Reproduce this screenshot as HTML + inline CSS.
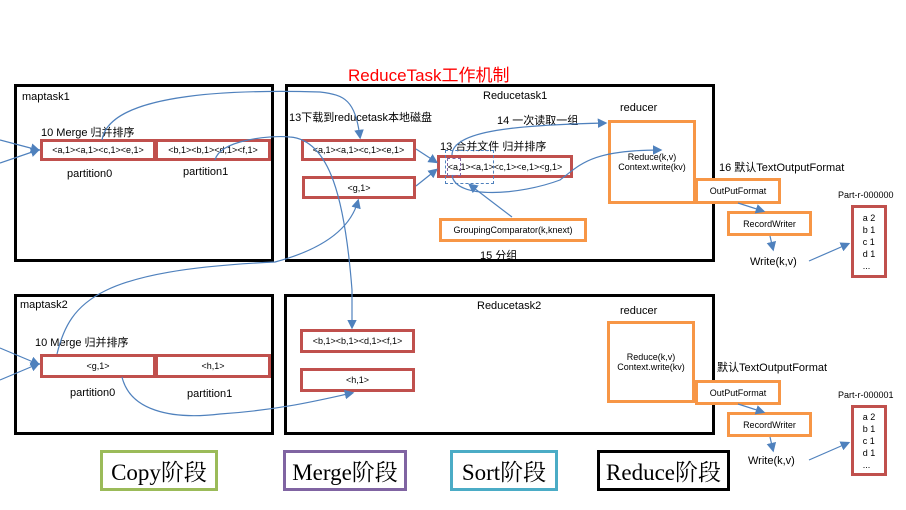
<!DOCTYPE html>
<html><head><meta charset="utf-8"><style>
body{margin:0;width:906px;height:510px;background:#fff;position:relative;overflow:hidden;font-family:"Liberation Sans","Noto Sans CJK SC",sans-serif;}
.a{position:absolute;box-sizing:border-box;}
.blk{border:3px solid #000;}
.red{border:3px solid #c0504d;display:flex;align-items:center;justify-content:center;font-size:9px;background:#fff;}
.or{border:3px solid #f79646;display:flex;align-items:center;justify-content:center;font-size:9px;background:#fff;text-align:center;}
.t{position:absolute;font-size:11px;white-space:nowrap;}
.lg{position:absolute;box-sizing:border-box;border:3px solid;display:flex;align-items:center;justify-content:center;font-family:"Liberation Serif","Noto Serif CJK SC",serif;font-size:23px;}
svg{position:absolute;left:0;top:0;}
</style></head><body>
<div class="t" style="left:348px;top:61px;font-size:17px;color:#f00">ReduceTask工作机制</div>
<div class="a blk" style="left:14px;top:84px;width:260px;height:178px"></div>
<div class="a blk" style="left:285px;top:84px;width:430px;height:178px"></div>
<div class="a blk" style="left:14px;top:294px;width:260px;height:141px"></div>
<div class="a blk" style="left:284px;top:294px;width:431px;height:141px"></div>

<div class="t" style="left:22px;top:91px">maptask1</div>
<div class="t" style="left:41px;top:124px">10 Merge 归并排序</div>
<div class="a red" style="left:40px;top:139px;width:116px;height:22px">&lt;a,1&gt;&lt;a,1&gt;&lt;c,1&gt;&lt;e,1&gt;</div>
<div class="a red" style="left:155px;top:139px;width:116px;height:22px">&lt;b,1&gt;&lt;b,1&gt;&lt;d,1&gt;&lt;f,1&gt;</div>
<div class="t" style="left:67px;top:168px">partition0</div>
<div class="t" style="left:183px;top:166px">partition1</div>

<div class="t" style="left:289px;top:109px">13下载到reducetask本地磁盘</div>
<div class="t" style="left:483px;top:90px">Reducetask1</div>
<div class="t" style="left:620px;top:102px">reducer</div>
<div class="t" style="left:497px;top:112px">14 一次读取一组</div>
<div class="t" style="left:440px;top:138px">13 合并文件 归并排序</div>
<div class="a red" style="left:301px;top:139px;width:115px;height:22px">&lt;a,1&gt;&lt;a,1&gt;&lt;c,1&gt;&lt;e,1&gt;</div>
<div class="a red" style="left:302px;top:176px;width:114px;height:23px">&lt;g,1&gt;</div>
<div class="a red" style="left:437px;top:155px;width:136px;height:23px">&lt;a,1&gt;&lt;a,1&gt;&lt;c,1&gt;&lt;e,1&gt;&lt;g,1&gt;</div>
<div class="a" style="left:445px;top:150px;width:49px;height:34px;border:1px dashed #4f81bd"></div>
<div class="a" style="left:447px;top:158px;width:14px;height:18px;border:1px dashed #8064a2"></div>
<div class="a or" style="left:439px;top:218px;width:148px;height:24px">GroupingComparator(k,knext)</div>
<div class="t" style="left:480px;top:247px">15 分组</div>
<div class="a or" style="left:608px;top:120px;width:88px;height:84px">Reduce(k,v)<br>Context.write(kv)</div>
<div class="t" style="left:719px;top:159px">16 默认TextOutputFormat</div>
<div class="a or" style="left:695px;top:178px;width:86px;height:26px">OutPutFormat</div>
<div class="a or" style="left:727px;top:211px;width:85px;height:25px">RecordWriter</div>
<div class="t" style="left:750px;top:256px">Write(k,v)</div>
<div class="t" style="left:838px;top:190px;font-size:9px">Part-r-000000</div>
<div class="a red" style="left:851px;top:205px;width:36px;height:73px;flex-direction:column;line-height:12px">a 2<br>b 1<br>c 1<br>d 1<br>...</div>

<div class="t" style="left:20px;top:299px">maptask2</div>
<div class="t" style="left:35px;top:334px">10 Merge 归并排序</div>
<div class="a red" style="left:40px;top:354px;width:116px;height:24px">&lt;g,1&gt;</div>
<div class="a red" style="left:155px;top:354px;width:116px;height:24px">&lt;h,1&gt;</div>
<div class="t" style="left:70px;top:387px">partition0</div>
<div class="t" style="left:187px;top:388px">partition1</div>
<div class="t" style="left:477px;top:300px">Reducetask2</div>
<div class="t" style="left:620px;top:305px">reducer</div>
<div class="a red" style="left:300px;top:329px;width:115px;height:24px">&lt;b,1&gt;&lt;b,1&gt;&lt;d,1&gt;&lt;f,1&gt;</div>
<div class="a red" style="left:300px;top:368px;width:115px;height:24px">&lt;h,1&gt;</div>
<div class="a or" style="left:607px;top:321px;width:88px;height:82px">Reduce(k,v)<br>Context.write(kv)</div>
<div class="t" style="left:717px;top:359px">默认TextOutputFormat</div>
<div class="a or" style="left:695px;top:380px;width:86px;height:25px">OutPutFormat</div>
<div class="a or" style="left:727px;top:412px;width:85px;height:25px">RecordWriter</div>
<div class="t" style="left:748px;top:455px">Write(k,v)</div>
<div class="t" style="left:838px;top:390px;font-size:9px">Part-r-000001</div>
<div class="a red" style="left:851px;top:405px;width:36px;height:71px;flex-direction:column;line-height:12px">a 2<br>b 1<br>c 1<br>d 1<br>...</div>

<div class="lg" style="left:100px;top:450px;width:118px;height:41px;border-color:#9bbb59">Copy阶段</div>
<div class="lg" style="left:283px;top:450px;width:124px;height:41px;border-color:#8064a2">Merge阶段</div>
<div class="lg" style="left:450px;top:450px;width:108px;height:41px;border-color:#4bacc6">Sort阶段</div>
<div class="lg" style="left:597px;top:450px;width:133px;height:41px;border-color:#000">Reduce阶段</div>

<svg width="906" height="510"><defs><marker id="m" markerWidth="8" markerHeight="8" refX="6" refY="4" orient="auto"><path d="M0,0 L8,4 L0,8 z" fill="#4f81bd"/></marker></defs>
<g fill="none" stroke="#4f81bd" stroke-width="1.2" marker-end="url(#m)">
<path d="M0,140 L38,150"/><path d="M0,163 L38,150"/>
<path d="M0,348 L38,364"/><path d="M0,380 L38,364"/>
<path d="M102,140 C110,90 250,90 320,92 C345,95 355,100 360,137"/>
<path d="M215,160 C220,140 270,135 290,137 C330,140 345,200 352,290 L352,327"/>
<path d="M57,354 C70,300 100,270 275,262 C320,250 350,230 358,201"/>
<path d="M122,377 C130,410 170,420 220,414 C280,410 320,400 352,393"/>
<path d="M416,149 L436,162"/><path d="M416,186 L436,170"/>
<path d="M452,155 C452,130 520,125 605,123"/>
<path d="M452,175 C455,200 520,195 560,180 C580,165 590,150 660,150"/>
<path d="M512,217 L470,185"/>
<path d="M738,203 L763,211"/><path d="M770,236 L773,249"/>
<path d="M809,261 L848,244"/>
<path d="M738,404 L763,412"/><path d="M770,437 L773,450"/>
<path d="M809,460 L848,443"/>
</g></svg>
</body></html>
